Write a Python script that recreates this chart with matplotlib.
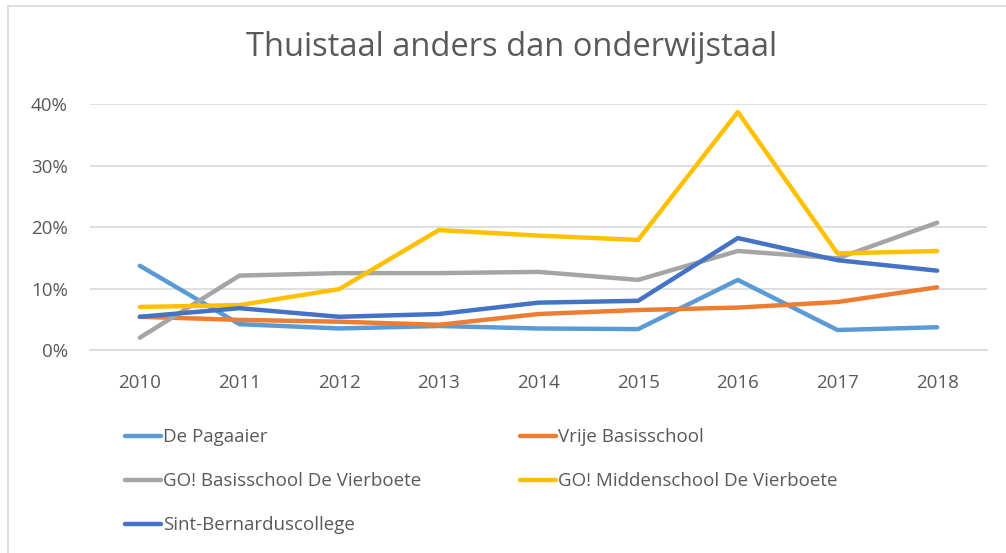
import matplotlib.pyplot as plt
from matplotlib.lines import Line2D
from matplotlib.ticker import PercentFormatter

years = ["2010", "2011", "2012", "2013", "2014", "2015", "2016", "2017", "2018"]

de_pagaaier = [13.7, 4.2, 3.5, 3.9, 3.5, 3.4, 11.4, 3.25, 3.7]
vrije_basisschool = [5.4, 4.9, 4.6, 4.1, 5.85, 6.5, 6.9, 7.8, 10.2]
go_basisschool = [2.0, 12.1, 12.5, 12.5, 12.7, 11.4, 16.1, 14.9, 20.7]
go_middenschool = [7.0, 7.3, 9.9, 19.5, 18.6, 17.9, 38.7, 15.7, 16.1]
sint_bernardus = [5.4, 6.8, 5.4, 5.85, 7.7, 8.0, 18.2, 14.6, 12.9]

series = [
    ("De Pagaaier", de_pagaaier, "#5B9BD5"),
    ("Vrije Basisschool", vrije_basisschool, "#ED7D31"),
    ("GO! Basisschool De Vierboete", go_basisschool, "#A5A5A5"),
    ("GO! Middenschool De Vierboete", go_middenschool, "#FFC000"),
    ("Sint-Bernarduscollege", sint_bernardus, "#4472C4"),
]

W, H = 1006, 553
plt.rcParams["font.family"] = ["Open Sans", "DejaVu Sans"]
TXT = "#595959"

fig = plt.figure(figsize=(W / 100, H / 100), dpi=100)
# chart frame: only the left and top edges are visible in the crop
fig.lines.append(Line2D([7.5 / W, 7.5 / W], [0, 1 - 5.5 / H], transform=fig.transFigure,
                        color="#D9D9D9", lw=1.2))
fig.lines.append(Line2D([7.5 / W, 1], [1 - 5.5 / H, 1 - 5.5 / H], transform=fig.transFigure,
                        color="#D9D9D9", lw=1.2))

ax = fig.add_axes([90 / W, 1 - 350 / H, 897 / W, 246 / H])
x = range(len(years))
handles = []
for name, vals, col in series:
    h, = ax.plot(x, vals, color=col, lw=3.2, label=name,
                 solid_capstyle="round", solid_joinstyle="round", zorder=3)
    handles.append(h)

ax.set_xlim(-0.5, len(years) - 0.5)
ax.set_ylim(0, 40)
ax.set_yticks([0, 10, 20, 30, 40])
ax.yaxis.set_major_formatter(PercentFormatter(decimals=0))
ax.set_xticks(list(x))
ax.set_xticklabels(years)
ax.grid(axis="y", color="#D9D9D9", lw=1.2)
ax.set_axisbelow(True)
for s in ("top", "right", "left"):
    ax.spines[s].set_visible(False)
ax.spines["bottom"].set_color("#D9D9D9")
ax.spines["bottom"].set_linewidth(1.2)
ax.tick_params(length=0, labelsize=13.5, colors=TXT)
ax.tick_params(axis="y", pad=16)
ax.tick_params(axis="x", pad=17)

fig.text(0.509, 1 - 48 / H, "Thuistaal anders dan onderwijstaal", ha="center", va="center",
         fontsize=23.5, color=TXT)

order = [0, 2, 4, 1, 3]
leg = fig.legend([handles[i] for i in order], [series[i][0] for i in order],
                 ncol=2, loc="upper left", bbox_to_anchor=(116 / W, 1 - 419 / H),
                 frameon=False, fontsize=13.5, handlelength=1.9, handletextpad=0.12,
                 labelspacing=1.38, columnspacing=5.25, borderpad=0, labelcolor=TXT)

fig.savefig("out.png", dpi=100)
